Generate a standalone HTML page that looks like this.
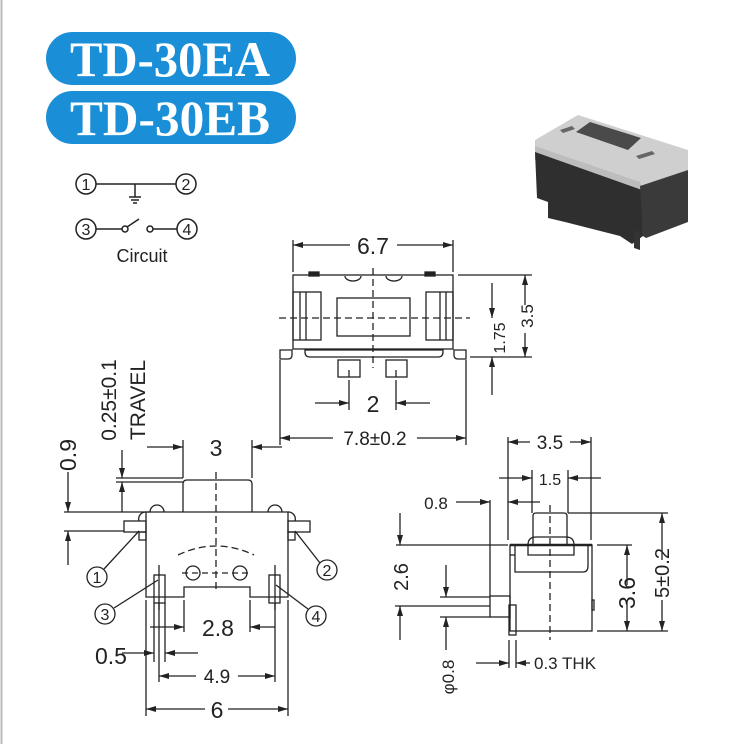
<!DOCTYPE html>
<html><head><meta charset="utf-8"><style>
html,body{margin:0;padding:0;background:#fff}
svg{display:block}
text{font-family:"Liberation Sans",sans-serif;fill:#222}
</style></head><body>
<svg width="735" height="744" viewBox="0 0 735 744" xmlns="http://www.w3.org/2000/svg">
<defs>
<marker id="a" viewBox="0 0 10 6" refX="10" refY="3" markerWidth="10" markerHeight="6" orient="auto-start-reverse" markerUnits="userSpaceOnUse"><path d="M0,0 L10,3 L0,6 z" fill="#222"/></marker>
</defs>
<line x1="1.5" y1="0" x2="1.5" y2="744" stroke="#bbb" stroke-width="2"/>
<!-- header pills -->
<rect x="46" y="32" width="250" height="53" rx="26.5" fill="#1a8fd8"/>
<rect x="46" y="91" width="250" height="53" rx="26.5" fill="#1a8fd8"/>
<text x="70" y="76" textLength="200" lengthAdjust="spacingAndGlyphs" style="font-family:'Liberation Serif',serif;font-weight:bold;font-size:50px;fill:#fff">TD-30EA</text>
<text x="70" y="135" textLength="200" lengthAdjust="spacingAndGlyphs" style="font-family:'Liberation Serif',serif;font-weight:bold;font-size:50px;fill:#fff">TD-30EB</text>

<g stroke="#222" stroke-width="1.5" fill="none">
<!-- circuit -->
<circle cx="86" cy="184" r="10"/><circle cx="186" cy="184" r="10"/>
<circle cx="86" cy="229" r="10"/><circle cx="187" cy="229" r="10"/>
<line x1="96" y1="184" x2="176" y2="184"/>
<line x1="135" y1="184" x2="135" y2="197"/>
<line x1="129" y1="197" x2="141" y2="197"/><line x1="131" y1="200" x2="139" y2="200"/><line x1="133" y1="203" x2="137" y2="203"/>
<line x1="96" y1="229" x2="122" y2="229"/><circle cx="125" cy="229" r="3"/>
<line x1="127" y1="227" x2="139" y2="219"/>
<circle cx="150" cy="229" r="3"/><line x1="153" y1="229" x2="177" y2="229"/>
</g>
<g style="font-size:16px" text-anchor="middle">
<text x="86" y="190">1</text><text x="186" y="190">2</text><text x="86" y="235">3</text><text x="187" y="235">4</text>
</g>
<text x="142" y="262" text-anchor="middle" style="font-size:18px">Circuit</text>

<!-- photo -->
<g>
<polygon points="535,140 578,115 688,150 688,170 640,186 535,148" fill="#cfcfcf"/>
<polygon points="535,146 640,182 645,197 535,160" fill="#bdbdbd"/>
<polygon points="535,152 642,190 643,236 632,244 620,236 565,222 548,218 548,202 537,198" fill="#2f2f2f"/>
<polygon points="640,186 688,170 688,222 646,238 643,236" fill="#3a3a3a"/>
<polygon points="634,230 640,232 640,250 634,248" fill="#333"/>
<polygon points="576,132 590,122 641,138 628,150" fill="#4a4a4a"/>
<polygon points="560,130 572,126 575,129 563,133" fill="#666"/>
<polygon points="636,156 652,151 655,154 639,159" fill="#666"/>
</g>

<g stroke="#222" stroke-width="1.3" fill="none">
<!-- TOP VIEW -->
<rect x="293" y="275" width="160" height="74"/>
<rect x="309" y="272" width="10" height="4" fill="#222"/><rect x="425" y="272" width="10" height="4" fill="#222"/>
<path d="M345,276 A8,5 0 0 0 361,276"/><path d="M386,276 A8,5 0 0 0 402,276"/>
<rect x="293" y="292" width="28" height="48"/><line x1="300" y1="292" x2="300" y2="340"/><line x1="306" y1="292" x2="306" y2="340"/>
<rect x="426" y="292" width="27" height="48"/><line x1="440" y1="292" x2="440" y2="340"/><line x1="446" y1="292" x2="446" y2="340"/>
<rect x="337" y="298" width="73" height="38"/>
<path d="M280,350 h12 v5 q0,4 -4,4 h-8 z"/><path d="M466,350 h-12 v5 q0,4 4,4 h8 z"/>
<path d="M305,350 h138 v2 q0,5 -5,5 h-128 q-5,0 -5,-5 z"/>
<rect x="338" y="360" width="22" height="17"/><rect x="386" y="360" width="21" height="17"/>
<line x1="349" y1="370" x2="349" y2="377"/><line x1="396" y1="370" x2="396" y2="377"/>
<line x1="373" y1="268" x2="373" y2="368" stroke-dasharray="7,4"/>
<line x1="279" y1="318" x2="470" y2="318" stroke-dasharray="7,4"/>
<!-- 6.7 -->
<line x1="293" y1="240" x2="293" y2="272"/><line x1="453" y1="240" x2="453" y2="272"/>
<line x1="293" y1="245" x2="350" y2="245" marker-start="url(#a)"/><line x1="397" y1="245" x2="453" y2="245" marker-end="url(#a)"/>
<!-- 2 -->
<line x1="349" y1="380" x2="349" y2="410"/><line x1="396" y1="380" x2="396" y2="410"/>
<line x1="315" y1="403" x2="349" y2="403" marker-end="url(#a)"/><line x1="430" y1="403" x2="396" y2="403" marker-end="url(#a)"/>
<!-- 7.8 -->
<line x1="280" y1="360" x2="280" y2="445"/><line x1="466" y1="360" x2="466" y2="445"/>
<line x1="280" y1="438" x2="333" y2="438" marker-start="url(#a)"/><line x1="417" y1="438" x2="466" y2="438" marker-end="url(#a)"/>
<!-- 1.75 / 3.5 -->
<line x1="458" y1="275" x2="532" y2="275"/><line x1="470" y1="357" x2="532" y2="357"/>
<line x1="492" y1="283" x2="492" y2="318" marker-end="url(#a)"/>
<line x1="492" y1="395" x2="492" y2="357" marker-end="url(#a)"/>
<line x1="525" y1="305" x2="525" y2="275" marker-end="url(#a)"/>
<line x1="525" y1="333" x2="525" y2="357" marker-end="url(#a)"/>

<!-- FRONT VIEW -->
<path d="M146,512 H288 V597 H250 V587 H184 V597 H146 Z"/>
<path d="M183,512 V484 q0,-4 4,-4 H248 q4,0 4,4 V512"/>
<path d="M150,512 a7,7 0 0 1 14,0"/><path d="M268,512 a7,7 0 0 1 14,0"/>
<path d="M139,521 a7,7 0 0 1 7,-9"/><path d="M295,521 a7,7 0 0 0 -7,-9"/>
<rect x="124" y="521" width="22" height="11"/><rect x="288" y="521" width="22" height="11"/>
<rect x="139" y="532" width="7" height="8"/><rect x="288" y="532" width="7" height="8"/>
<line x1="216" y1="472" x2="216" y2="590" stroke-dasharray="7,4"/>
<path d="M178,555 Q216,537 254,555" stroke-dasharray="7,4"/>
<circle cx="193" cy="573" r="7"/><circle cx="240" cy="573" r="7"/>
<line x1="182" y1="573" x2="250" y2="573" stroke-dasharray="6,4"/>
<rect x="154" y="575" width="11" height="28"/><rect x="269" y="575" width="11" height="28"/>
<line x1="159" y1="565" x2="159" y2="610"/><line x1="275" y1="565" x2="275" y2="610"/>
<!-- 3 -->
<line x1="183" y1="440" x2="183" y2="478"/><line x1="252" y1="440" x2="252" y2="478"/>
<line x1="147" y1="447" x2="183" y2="447" marker-end="url(#a)"/><line x1="282" y1="447" x2="252" y2="447" marker-end="url(#a)"/>
<!-- 0.9 / travel -->
<line x1="64" y1="512" x2="150" y2="512"/><line x1="64" y1="531" x2="124" y2="531"/>
<line x1="68" y1="472" x2="68" y2="512" marker-end="url(#a)"/>
<line x1="68" y1="565" x2="68" y2="531" marker-end="url(#a)"/>
<line x1="116" y1="478" x2="183" y2="478"/><line x1="116" y1="482" x2="183" y2="482"/>
<line x1="122" y1="450" x2="122" y2="478" marker-end="url(#a)"/>
<line x1="122" y1="512" x2="122" y2="482" marker-end="url(#a)"/>
<!-- circle leaders -->
<circle cx="97" cy="577" r="10"/><circle cx="327" cy="570" r="10"/>
<circle cx="105" cy="614" r="10"/><circle cx="316" cy="616" r="10"/>
<line x1="104" y1="569" x2="139" y2="531"/><line x1="320" y1="563" x2="295" y2="531"/>
<line x1="114" y1="608" x2="158" y2="580"/><line x1="308" y1="609" x2="276" y2="585"/>
<!-- 2.8 -->
<line x1="184" y1="600" x2="184" y2="632"/><line x1="250" y1="600" x2="250" y2="632"/>
<line x1="150" y1="627" x2="184" y2="627" marker-end="url(#a)"/><line x1="275" y1="627" x2="250" y2="627" marker-end="url(#a)"/>
<!-- 0.5 -->
<line x1="154" y1="603" x2="154" y2="662"/><line x1="165" y1="603" x2="165" y2="662"/>
<line x1="146" y1="600" x2="146" y2="716"/><line x1="288" y1="600" x2="288" y2="716"/>
<line x1="122" y1="653" x2="154" y2="653" marker-end="url(#a)"/><line x1="198" y1="653" x2="165" y2="653" marker-end="url(#a)"/>
<!-- 4.9 -->
<line x1="159" y1="603" x2="159" y2="682"/><line x1="275" y1="603" x2="275" y2="682"/>
<line x1="159" y1="676" x2="196" y2="676" marker-start="url(#a)"/><line x1="238" y1="676" x2="275" y2="676" marker-end="url(#a)"/>
<!-- 6 -->
<line x1="146" y1="709" x2="205" y2="709" marker-start="url(#a)"/><line x1="228" y1="709" x2="288" y2="709" marker-end="url(#a)"/>

<!-- SIDE VIEW -->
<rect x="510" y="545" width="82" height="86"/>
<line x1="510" y1="545" x2="592" y2="545" stroke-width="2.5"/>
<path d="M515,545 V572 H583 q5,0 5,-6 V545"/>
<line x1="510" y1="555" x2="515" y2="555"/>
<path d="M533,545 V516 q0,-3 3,-3 H564 q3,0 3,3 V545"/>
<path d="M528,555 V545 q0,-8 8,-8 H566 q8,0 8,8 V555 Z"/>
<rect x="592" y="600" width="2" height="10"/>
<rect x="490" y="596" width="20" height="21"/>
<rect x="509" y="605" width="7" height="30"/>
<line x1="550" y1="505" x2="550" y2="640" stroke-dasharray="7,4"/>
<!-- 3.5 -->
<line x1="508" y1="437" x2="508" y2="540"/><line x1="591" y1="437" x2="591" y2="540"/>
<line x1="508" y1="442" x2="530" y2="442" marker-start="url(#a)"/><line x1="570" y1="442" x2="591" y2="442" marker-end="url(#a)"/>
<!-- 1.5 -->
<line x1="532" y1="470" x2="532" y2="513"/><line x1="568" y1="470" x2="568" y2="513"/>
<line x1="499" y1="478" x2="532" y2="478" marker-end="url(#a)"/><line x1="601" y1="478" x2="568" y2="478" marker-end="url(#a)"/>
<!-- 0.8 -->
<line x1="490" y1="500" x2="490" y2="596"/>
<line x1="456" y1="502" x2="490" y2="502" marker-end="url(#a)"/>
<line x1="540" y1="502" x2="508" y2="502" marker-end="url(#a)"/>
<!-- right dims -->
<line x1="568" y1="513" x2="668" y2="513"/><line x1="597" y1="545" x2="632" y2="545"/><line x1="597" y1="631" x2="668" y2="631"/>
<line x1="627" y1="585" x2="627" y2="545" marker-end="url(#a)"/><line x1="627" y1="600" x2="627" y2="631" marker-end="url(#a)"/>
<line x1="662" y1="560" x2="662" y2="513" marker-end="url(#a)"/><line x1="662" y1="600" x2="662" y2="631" marker-end="url(#a)"/>
<!-- 2.6 -->
<line x1="396" y1="545" x2="508" y2="545"/><line x1="395" y1="606" x2="490" y2="606"/>
<line x1="400" y1="513" x2="400" y2="545" marker-end="url(#a)"/>
<line x1="400" y1="640" x2="400" y2="606" marker-end="url(#a)"/>
<!-- phi 0.8 -->
<line x1="440" y1="597" x2="490" y2="597"/><line x1="440" y1="617" x2="490" y2="617"/>
<line x1="446" y1="565" x2="446" y2="597" marker-end="url(#a)"/>
<line x1="446" y1="650" x2="446" y2="617" marker-end="url(#a)"/>
<!-- 0.3 THK -->
<line x1="509" y1="640" x2="509" y2="668"/><line x1="516" y1="640" x2="516" y2="668"/>
<line x1="476" y1="663" x2="509" y2="663" marker-end="url(#a)"/><line x1="530" y1="663" x2="516" y2="663" marker-end="url(#a)"/>
</g>

<!-- texts -->
<g style="font-size:23px" text-anchor="middle">
<text x="373" y="254">6.7</text>
<text x="373" y="412">2</text>
<text x="216" y="456">3</text>
<text x="218" y="636">2.8</text>
<text x="217" y="718">6</text>
</g>
<g style="font-size:19px" text-anchor="middle">
<text x="375" y="445">7.8±0.2</text>
<text x="217" y="683">4.9</text>
<text x="550" y="449">3.5</text>
</g>
<text x="550" y="485" text-anchor="middle" style="font-size:16px">1.5</text>
<text x="436" y="509" text-anchor="middle" style="font-size:17px">0.8</text>
<text x="111" y="664" text-anchor="middle" style="font-size:23px">0.5</text>
<text x="534" y="669" style="font-size:17px">0.3 THK</text>
<g text-anchor="middle">
<text transform="translate(505,338) rotate(-90)" style="font-size:16px">1.75</text>
<text transform="translate(533,316) rotate(-90)" style="font-size:17px">3.5</text>
<text transform="translate(76,455) rotate(-90)" style="font-size:23px">0.9</text>
<text transform="translate(116,400) rotate(-90)" style="font-size:21px">0.25±0.1</text>
<text transform="translate(145,400) rotate(-90)" style="font-size:21px">TRAVEL</text>
<text transform="translate(408,577) rotate(-90)" style="font-size:20px">2.6</text>
<text transform="translate(454,677) rotate(-90)" style="font-size:17px">φ0.8</text>
<text transform="translate(635,593) rotate(-90)" style="font-size:23px">3.6</text>
<text transform="translate(669,573) rotate(-90)" style="font-size:20px">5±0.2</text>
</g>
<g style="font-size:16px" text-anchor="middle">
<text x="97" y="583">1</text><text x="327" y="576">2</text><text x="105" y="620">3</text><text x="316" y="622">4</text>
</g>
</svg>
</body></html>
